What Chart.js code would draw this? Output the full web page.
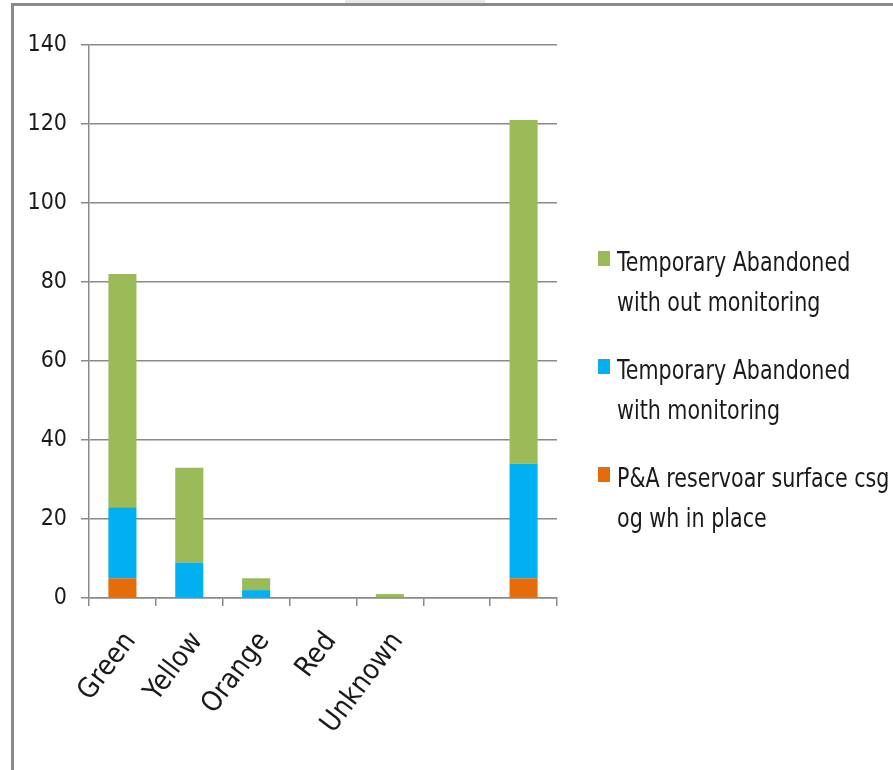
<!DOCTYPE html>
<html>
<head>
<meta charset="utf-8">
<script src="https://cdn.jsdelivr.net/npm/chart.js@4.4.1/dist/chart.umd.min.js"></script>
<style>
  html, body { margin: 0; padding: 0; background: #fff; }
  #wrap { position: relative; width: 893px; height: 770px; overflow: hidden; background: #fff; }
  #c { position: absolute; left: 0; top: 0; }
  .frameTop { position: absolute; left: 11px; top: 3px; width: 882px; height: 3px; background: #8a8a8a; }
  .frameLeft { position: absolute; left: 11px; top: 3px; width: 3px; height: 767px; background: #8a8a8a; }
  .tab { position: absolute; left: 345px; top: 0; width: 140px; height: 3px; background: #e6ebe8; }
  #legend { position: absolute; left: 598px; top: 242px; font-family: "DejaVu Sans Condensed", "Liberation Sans", sans-serif; font-size: 27px; color: #1a1a1a; }
  .item { position: absolute; left: 0; width: 290px; }
  .sw { position: absolute; left: 0; top: 9px; width: 12px; height: 15px; }
  .txt { position: absolute; left: 19px; top: 0; line-height: 40px; white-space: nowrap; transform: scaleX(0.85); transform-origin: 0 0; }
</style>
</head>
<body>
<div id="wrap">
  <canvas id="c" width="893" height="770"></canvas>
  <div class="tab"></div>
  <div class="frameTop"></div>
  <div class="frameLeft"></div>
  <div id="legend"></div>
</div>
<script>
const categories = ['Green', 'Yellow', 'Orange', 'Red', 'Unknown', '', ''];
const paReservoir = [5, 0, 0, 0, 0, 0, 5];
const taWithMonitoring = [18, 9, 2, 0, 0, 0, 29];
const taWithoutMonitoring = [59, 24, 3, 0, 1, 0, 87];
const seriesNames = [
  ['P&A reservoar surface csg', 'og wh in place'],
  ['Temporary Abandoned', 'with monitoring'],
  ['Temporary Abandoned', 'with out monitoring']
];
const seriesColors = ['#E46C0A', '#00B0F0', '#9BBB59'];
const yTicks = [0, 20, 40, 60, 80, 100, 120, 140];

const FONT = '"DejaVu Sans Condensed", "Liberation Sans", sans-serif';
const GRID = '#8a8a8a';

const datasets = [paReservoir, taWithMonitoring, taWithoutMonitoring].map((d, i) => ({
  label: seriesNames[i].join(' '),
  data: d,
  backgroundColor: seriesColors[i],
  borderWidth: 0,
  barPercentage: 0.42,
  categoryPercentage: 1.0
}));

new Chart(document.getElementById('c'), {
  type: 'bar',
  data: { labels: categories, datasets },
  options: {
    responsive: false,
    animation: false,
    layout: { padding: { left: 0, right: 336, top: 45, bottom: 0 } },
    plugins: { legend: { display: false }, tooltip: { enabled: false } },
    scales: {
      x: {
        stacked: true,
        grid: { display: true, drawOnChartArea: false, drawTicks: true, tickLength: 8, color: GRID, lineWidth: 1.5, offset: true },
        border: { display: true, color: GRID, width: 1.5 },
        ticks: { font: { family: FONT, size: 28 }, color: '#1a1a1a', minRotation: 53, maxRotation: 53, autoSkip: false, padding: 20, labelOffset: 8 },
        afterFit: s => { s.height = 172; }
      },
      y: {
        stacked: true,
        min: 0, max: 140,
        afterBuildTicks: s => { s.ticks = yTicks.map(v => ({ value: v })); },
        grid: { color: GRID, lineWidth: 1.5, tickLength: 8 },
        border: { display: true, color: GRID, width: 1.5 },
        ticks: { font: { family: FONT, size: 23 }, color: '#1a1a1a', padding: 14 },
        afterFit: s => { s.width = 89; }
      }
    }
  }
});

// HTML legend, listed top to bottom in reverse stacking order
const legend = document.getElementById('legend');
[2, 1, 0].forEach((idx, row) => {
  const item = document.createElement('div');
  item.className = 'item';
  item.style.top = (row * 108) + 'px';
  const sw = document.createElement('div');
  sw.className = 'sw';
  sw.style.background = seriesColors[idx];
  const txt = document.createElement('div');
  txt.className = 'txt';
  txt.innerHTML = seriesNames[idx].map(t => t.replace(/&/g, '&amp;')).join('<br>');
  item.appendChild(sw);
  item.appendChild(txt);
  legend.appendChild(item);
});
</script>
</body>
</html>
